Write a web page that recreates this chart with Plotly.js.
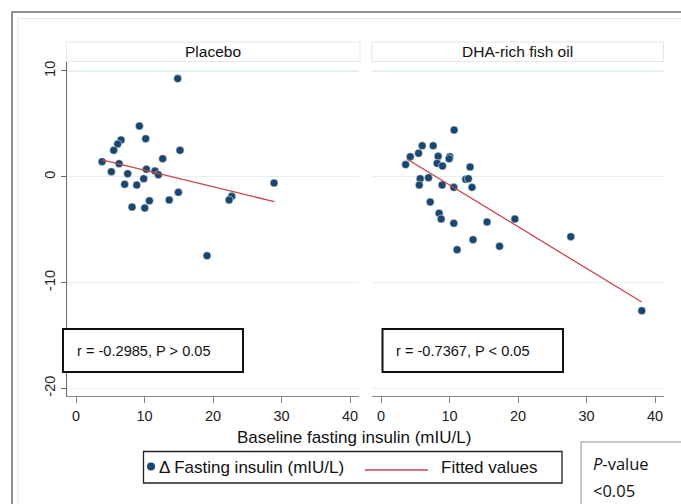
<!DOCTYPE html>
<html>
<head>
<meta charset="utf-8">
<script src="https://cdn.plot.ly/plotly-3.0.1.min.js"></script>
<style>html,body{margin:0;padding:0;background:#fff;}#chart{width:681px;height:504px;}</style>
</head>
<body>
<div id="chart"></div>
<script>
// ---- Data ----
const panelTitles = ["Placebo", "DHA-rich fish oil"];
const placeboX = [14.84, 9.25, 10.17, 6.57, 6.08, 5.50, 15.18, 3.80, 6.28, 12.65, 5.16, 7.54, 10.27, 11.53, 12.02, 9.88, 7.10, 8.86, 14.94, 28.9, 10.71, 13.6, 22.73, 22.34, 8.18, 10.03, 19.12];
const placeboY = [9.28, 4.80, 3.60, 3.48, 3.10, 2.50, 2.50, 1.43, 1.24, 1.71, 0.48, 0.29, 0.71, 0.55, 0.20, -0.18, -0.71, -0.78, -1.47, -0.59, -2.26, -2.19, -1.85, -2.19, -2.86, -2.95, -7.46];
const dhaX = [10.67, 6.01, 7.61, 4.27, 5.48, 8.34, 10.04, 9.94, 3.59, 8.19, 8.97, 13.0, 5.72, 5.58, 6.93, 8.92, 10.62, 12.36, 12.75, 13.28, 7.18, 8.48, 8.78, 10.62, 15.47, 19.54, 27.7, 13.43, 17.3, 11.1, 38.06];
const dhaY = [4.42, 2.94, 2.94, 1.90, 2.22, 1.94, 1.90, 1.71, 1.15, 1.27, 1.02, 0.93, -0.18, -0.78, -0.08, -0.78, -1.0, -0.24, -0.18, -1.0, -2.38, -3.45, -3.99, -4.40, -4.27, -3.99, -5.66, -5.94, -6.57, -6.89, -12.66];
const fitPlaceboX = [3.8, 28.95];
const fitPlaceboY = [1.59, -2.35];
const fitDhaX = [3.78, 38.06];
const fitDhaY = [1.68, -11.84];
const statLabels = ["r = -0.2985, P > 0.05", "r = -0.7367, P < 0.05"];
const xTicks = [0, 10, 20, 30, 40];
const yTicks = [-20, -10, 0, 10];
const xTitle = "Baseline fasting insulin (mIU/L)";
const legendLabels = ["\u0394 Fasting insulin (mIU/L)", "Fitted values"];
const pBoxLabels = ["<i>P</i>-value", "<0.05"];

// ---- Styling ----
const W = 681, H = 504;
const px = v => v / W;
const py = v => 1 - v / H;
const NAVY = "#1a476f";
const RED = "#c9434b";
const FONT = "Liberation Sans, Arial, sans-serif";

const markerStyle = {color: NAVY, size: 8, line: {width: 0.5, color: "#ffffff"}};
const lineStyle = {color: RED, width: 1.3};

const traces = [
  {x: placeboX, y: placeboY, type: "scatter", mode: "markers", marker: markerStyle, xaxis: "x", yaxis: "y", showlegend: false, hoverinfo: "skip"},
  {x: fitPlaceboX, y: fitPlaceboY, type: "scatter", mode: "lines", line: lineStyle, xaxis: "x", yaxis: "y", showlegend: false, hoverinfo: "skip"},
  {x: dhaX, y: dhaY, type: "scatter", mode: "markers", marker: markerStyle, xaxis: "x2", yaxis: "y2", showlegend: false, hoverinfo: "skip"},
  {x: fitDhaX, y: fitDhaY, type: "scatter", mode: "lines", line: lineStyle, xaxis: "x2", yaxis: "y2", showlegend: false, hoverinfo: "skip"}
];

const xRange = [-1.36, 41.3];
const yRange = [-20.72, 10.85];
const yDomain = [py(396), py(62)];

const xaxisBase = {
  range: xRange, tickmode: "array", tickvals: xTicks, ticktext: xTicks.map(String),
  showgrid: false, zeroline: false, showline: true, linecolor: "#8a8a8a", linewidth: 1.2,
  ticks: "outside", ticklen: 6, tickwidth: 1, tickcolor: "#8a8a8a",
  tickfont: {family: FONT, size: 14.5, color: "#222"}, fixedrange: true
};
const yaxisBase = {
  range: yRange, domain: yDomain, tickmode: "array", tickvals: yTicks, ticktext: yTicks.map(String),
  showgrid: true, gridcolor: "#e6eff0", gridwidth: 1.2, zeroline: false, fixedrange: true
};

const shapes = [
  // outer frame
  {type: "rect", xref: "paper", yref: "paper", x0: px(12), x1: px(720), y0: py(12), y1: py(540), line: {color: "#6e6e6e", width: 1.5}, fillcolor: "rgba(0,0,0,0)", layer: "below"},
  {type: "rect", xref: "paper", yref: "paper", x0: px(18), x1: px(720), y0: py(18.5), y1: py(540), line: {color: "#dde8ea", width: 1}, fillcolor: "rgba(0,0,0,0)", layer: "below"},
  // strip headers
  {type: "rect", xref: "paper", yref: "paper", x0: px(66.5), x1: px(360), y0: py(42), y1: py(61.5), line: {color: "#dfeaec", width: 1}, fillcolor: "#ffffff"},
  {type: "rect", xref: "paper", yref: "paper", x0: px(371.7), x1: px(663.5), y0: py(42), y1: py(61.5), line: {color: "#dfeaec", width: 1}, fillcolor: "#ffffff"},
  // stat boxes
  {type: "rect", xref: "paper", yref: "paper", x0: px(63), x1: px(243), y0: py(329), y1: py(372), line: {color: "#111", width: 2}, fillcolor: "#ffffff", layer: "above"},
  {type: "rect", xref: "paper", yref: "paper", x0: px(382.5), x1: px(563), y0: py(329), y1: py(372), line: {color: "#111", width: 2}, fillcolor: "#ffffff", layer: "above"},
  // legend box
  {type: "rect", xref: "paper", yref: "paper", x0: px(143.5), x1: px(562), y0: py(451.5), y1: py(483), line: {color: "#222", width: 1.3}, fillcolor: "#ffffff"},
  // legend swatches
  {type: "circle", xref: "paper", yref: "paper", x0: px(147), x1: px(155), y0: py(462.5), y1: py(470.5), line: {color: NAVY, width: 0}, fillcolor: NAVY},
  {type: "line", xref: "paper", yref: "paper", x0: px(365), x1: px(428), y0: py(470), y1: py(470), line: {color: RED, width: 1.6}},
  // p-value box
  {type: "rect", xref: "paper", yref: "paper", x0: px(581), x1: px(720), y0: py(442), y1: py(540), line: {color: "#8f8f8f", width: 1}, fillcolor: "#ffffff"}
];

const annotations = [
  {text: panelTitles[0], xref: "paper", yref: "paper", x: px(213), y: py(51.5), xanchor: "center", yanchor: "middle", showarrow: false, font: {family: FONT, size: 15.5, color: "#111"}},
  {text: panelTitles[1], xref: "paper", yref: "paper", x: px(517.5), y: py(51.5), xanchor: "center", yanchor: "middle", showarrow: false, font: {family: FONT, size: 15.5, color: "#111"}},
  {text: statLabels[0], xref: "paper", yref: "paper", x: px(75), y: py(351), xanchor: "left", yanchor: "middle", showarrow: false, font: {family: FONT, size: 14.6, color: "#111"}},
  {text: statLabels[1], xref: "paper", yref: "paper", x: px(394.5), y: py(351), xanchor: "left", yanchor: "middle", showarrow: false, font: {family: FONT, size: 14.6, color: "#111"}},
  {text: xTitle, xref: "paper", yref: "paper", x: px(353.5), y: py(437), xanchor: "center", yanchor: "middle", showarrow: false, font: {family: FONT, size: 17, color: "#111"}},
  {text: legendLabels[0], xref: "paper", yref: "paper", x: px(157), y: py(467.5), xanchor: "left", yanchor: "middle", showarrow: false, font: {family: FONT, size: 17, color: "#111"}},
  {text: legendLabels[1], xref: "paper", yref: "paper", x: px(439), y: py(467), xanchor: "left", yanchor: "middle", showarrow: false, font: {family: FONT, size: 17, color: "#111"}},
  {text: pBoxLabels[0], xref: "paper", yref: "paper", x: px(591), y: py(463), xanchor: "left", yanchor: "middle", showarrow: false, font: {family: "Open Sans, sans-serif", size: 16.5, color: "#111"}},
  {text: pBoxLabels[1], xref: "paper", yref: "paper", x: px(591), y: py(490), xanchor: "left", yanchor: "middle", showarrow: false, font: {family: "Open Sans, sans-serif", size: 16.5, color: "#111"}}
];

const layout = {
  width: W, height: H,
  margin: {l: 0, r: 0, t: 0, b: 0, pad: 0},
  paper_bgcolor: "#ffffff", plot_bgcolor: "#ffffff",
  showlegend: false,
  xaxis: Object.assign({}, xaxisBase, {domain: [px(66.7), px(359)], anchor: "y"}),
  xaxis2: Object.assign({}, xaxisBase, {domain: [px(371.7), px(664)], anchor: "y2"}),
  yaxis: Object.assign({}, yaxisBase, {anchor: "x", showline: true, linecolor: "#666", linewidth: 1.2,
    ticks: "outside", ticklen: 5, tickwidth: 1, tickcolor: "#666", tickangle: -90,
    tickfont: {family: FONT, size: 14.5, color: "#222"}}),
  yaxis2: Object.assign({}, yaxisBase, {anchor: "x2", showline: false, ticks: "", showticklabels: false}),
  shapes: shapes,
  annotations: annotations
};

Plotly.newPlot("chart", traces, layout, {displayModeBar: false, staticPlot: true});
</script>
</body>
</html>
